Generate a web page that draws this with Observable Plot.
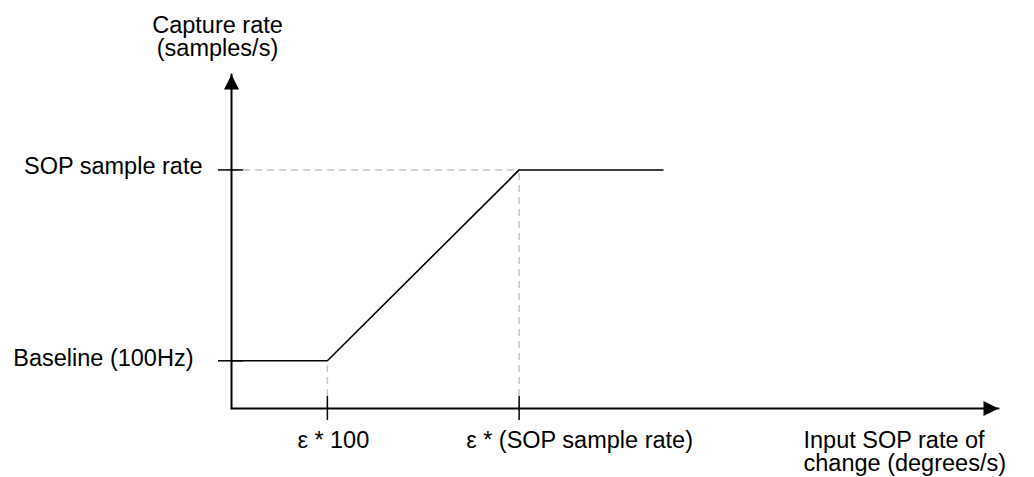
<!DOCTYPE html>
<html>
<head>
<meta charset="utf-8">
<script src="https://cdn.jsdelivr.net/npm/d3@7"></script>
<script src="https://cdn.jsdelivr.net/npm/@observablehq/plot@0.6"></script>
<style>
  html, body { margin: 0; padding: 0; background: #fff; }
  #chart svg { display: block; }
</style>
</head>
<body>
<div id="chart"></div>
<script>
// ---- data (conceptual units) ----
const xTickValues = [1, 3];                       // ε*100, ε*(SOP sample rate)
const xTickLabels = ["ε * 100", "ε * (SOP sample rate)"];
const yTickValues = [100, 300];                   // baseline, SOP sample rate
const yTickLabels = ["Baseline (100Hz)", "SOP sample rate"];
const curveX = [0, 1, 3, 4.5];
const curveY = [100, 100, 300, 300];
const xAxisExtent = [0, 8];
const yAxisExtent = [50, 400];
const yTitle = "Capture rate\n(samples/s)";
const xTitle = "Input SOP rate of\nchange (degrees/s)";

const curve = curveX.map((x, i) => ({x, y: curveY[i]}));
const x0 = xAxisExtent[0], y0 = yAxisExtent[0];

const font = "'Liberation Sans', Arial, sans-serif";
const fs = 23.5;

const arrowRight = {draw(ctx) { ctx.moveTo(0, 0); ctx.lineTo(-15, -7.5); ctx.lineTo(-15, 7.5); ctx.closePath(); }};
const arrowUp = {draw(ctx) { ctx.moveTo(0, 0); ctx.lineTo(-7.5, 15); ctx.lineTo(7.5, 15); ctx.closePath(); }};

const chart = Plot.plot({
  width: 1034,
  height: 477,
  marginLeft: 231,
  marginRight: 36,
  marginTop: 74,
  marginBottom: 69,
  x: {domain: xAxisExtent, axis: null},
  y: {domain: yAxisExtent, axis: null},
  style: {fontFamily: font, background: "#fff"},
  marks: [
    // dashed guides
    Plot.ruleY([yTickValues[1]], {y: d => d, x1: x0, x2: xTickValues[1], stroke: "#c4c4c4", strokeWidth: 1.5, strokeDasharray: "7,5"}),
    Plot.ruleX(xTickValues, {x: d => d, y1: y0, y2: (d, i) => yTickValues[i], stroke: "#c4c4c4", strokeWidth: 1.5, strokeDasharray: "7,5"}),
    // axes
    Plot.line([{x: x0, y: y0}, {x: x0, y: yAxisExtent[1]}], {x: "x", y: "y", stroke: "black", strokeWidth: 2}),
    Plot.line([{x: x0, y: y0}, {x: xAxisExtent[1], y: y0}], {x: "x", y: "y", stroke: "black", strokeWidth: 2}),
    Plot.dot([{x: x0, y: yAxisExtent[1]}], {x: "x", y: "y", symbol: arrowUp, fill: "black", stroke: "none"}),
    Plot.dot([{x: xAxisExtent[1], y: y0}], {x: "x", y: "y", symbol: arrowRight, fill: "black", stroke: "none"}),
    // ticks
    Plot.ruleY(yTickValues, {y: d => d, x1: x0, x2: x0, insetLeft: -13, insetRight: -12, stroke: "black", strokeWidth: 1.5}),
    Plot.ruleX(xTickValues, {x: d => d, y1: y0, y2: y0, insetTop: -12, insetBottom: -12, stroke: "black", strokeWidth: 1.5}),
    // curve
    Plot.line(curve, {x: "x", y: "y", stroke: "black", strokeWidth: 1.6}),
    // y tick labels
    Plot.text([0], {x: x0, y: () => yTickValues[0], text: () => yTickLabels[0], textAnchor: "end", dx: -38, dy: -2, fontSize: fs, fill: "black"}),
    Plot.text([1], {x: x0, y: () => yTickValues[1], text: () => yTickLabels[1], textAnchor: "end", dx: -29, dy: -3, fontSize: fs, fill: "black"}),
    // x tick labels
    Plot.text([0], {x: () => xTickValues[0], y: y0, text: () => xTickLabels[0], textAnchor: "start", dx: -30, dy: 32, fontSize: fs, fill: "black"}),
    Plot.text([1], {x: () => xTickValues[1], y: y0, text: () => xTickLabels[1], textAnchor: "start", dx: -53, dy: 32, fontSize: fs, fill: "black"}),
    // axis titles
    Plot.text([yTitle], {frameAnchor: "top-left", text: d => d, textAnchor: "middle", lineAnchor: "middle", lineHeight: 1.0, dx: -14, dy: -37.5, fontSize: fs, fill: "black"}),
    Plot.text([xTitle], {frameAnchor: "bottom-right", text: d => d, textAnchor: "start", lineAnchor: "middle", lineHeight: 1.0, dx: -195, dy: 43.5, fontSize: fs, fill: "black"})
  ]
});
document.getElementById("chart").appendChild(chart);
</script>
</body>
</html>
